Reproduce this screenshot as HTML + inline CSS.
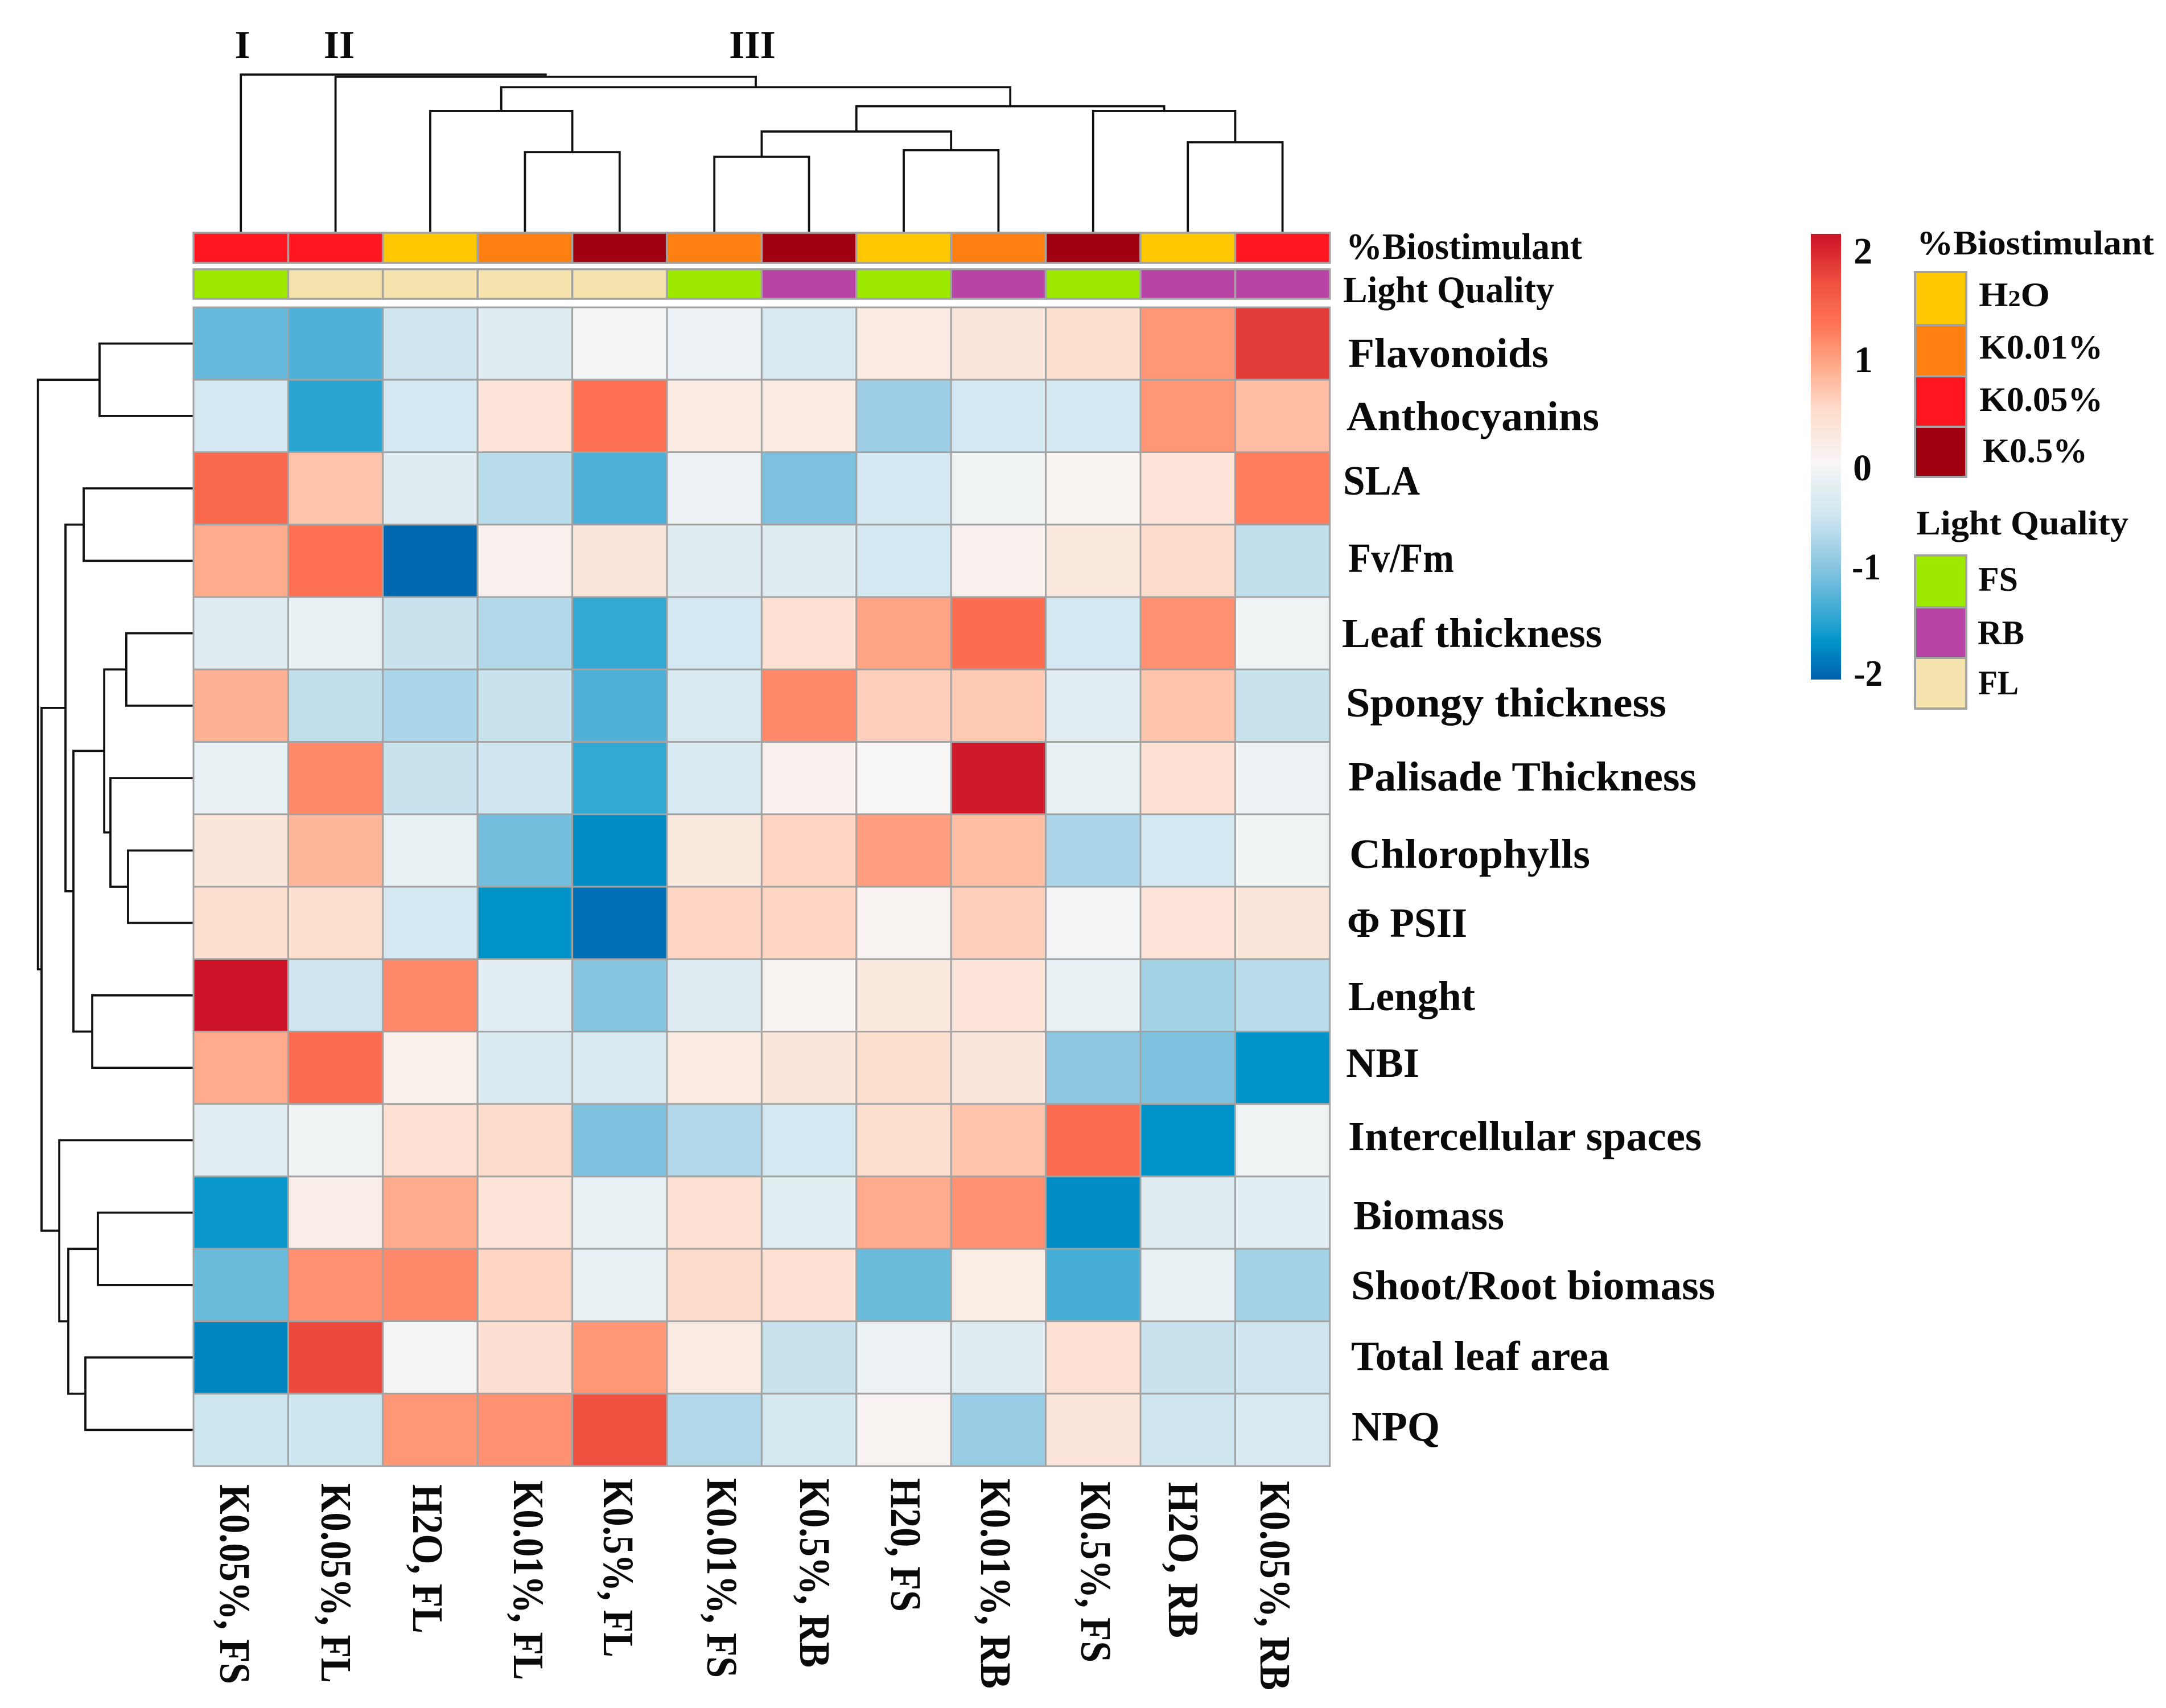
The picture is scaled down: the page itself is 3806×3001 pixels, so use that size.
<!DOCTYPE html>
<html lang="en">
<head>
<meta charset="utf-8">
<title>Clustered heatmap of biostimulant and light quality treatments</title>
<style>
html,body{margin:0;padding:0;background:#fff;}
svg{display:block;}
text{font-family:"Liberation Serif",serif;font-weight:bold;fill:#0a0a0a;}
.rl{font-size:73px;}
.cl{font-size:76px;}
.ll{font-size:60px;}
.cb{font-size:66px;}
.an{font-size:66px;}
.rm{font-size:70px;text-anchor:middle;}
</style>
</head>
<body>
<svg id="chart" xmlns="http://www.w3.org/2000/svg" width="3806" height="3001" viewBox="0 0 3806 3001">
<rect x="0" y="0" width="3806" height="3001" fill="#ffffff"/>
<defs><linearGradient id="cbGrad" x1="0" y1="0" x2="0" y2="1"></linearGradient></defs>
<g id="colDendro" fill="none" stroke="#111" stroke-width="3.8"></g>
<g id="rowDendro" fill="none" stroke="#111" stroke-width="3.8"></g>
<g id="annots"></g>
<g id="cells"></g>

<text class="rm" x="426" y="102">I</text>
<text class="rm" x="596" y="102">II</text>
<text class="rm" x="1322" y="102">III</text>

<text class="an" x="2365" y="455" textLength="415" lengthAdjust="spacingAndGlyphs">%Biostimulant</text>
<text class="an" x="2360" y="531" textLength="371" lengthAdjust="spacingAndGlyphs">Light Quality</text>

<g>
<text class="rl" x="2369" y="645" textLength="352" lengthAdjust="spacingAndGlyphs">Flavonoids</text>
<text class="rl" x="2366" y="756" textLength="444" lengthAdjust="spacingAndGlyphs">Anthocyanins</text>
<text class="rl" x="2360" y="869" textLength="135" lengthAdjust="spacingAndGlyphs">SLA</text>
<text class="rl" x="2369" y="1005" textLength="186" lengthAdjust="spacingAndGlyphs">Fv/Fm</text>
<text class="rl" x="2358" y="1137" textLength="457" lengthAdjust="spacingAndGlyphs">Leaf thickness</text>
<text class="rl" x="2365" y="1259" textLength="563" lengthAdjust="spacingAndGlyphs">Spongy thickness</text>
<text class="rl" x="2369" y="1389" textLength="612" lengthAdjust="spacingAndGlyphs">Palisade Thickness</text>
<text class="rl" x="2371" y="1525" textLength="423" lengthAdjust="spacingAndGlyphs">Chlorophylls</text>
<text class="rl" x="2367" y="1646" textLength="211" lengthAdjust="spacingAndGlyphs">Φ PSII</text>
<text class="rl" x="2369" y="1775" textLength="223" lengthAdjust="spacingAndGlyphs">Lenght</text>
<text class="rl" x="2365" y="1892" textLength="129" lengthAdjust="spacingAndGlyphs">NBI</text>
<text class="rl" x="2369" y="2021" textLength="621" lengthAdjust="spacingAndGlyphs">Intercellular spaces</text>
<text class="rl" x="2378" y="2160" textLength="265" lengthAdjust="spacingAndGlyphs">Biomass</text>
<text class="rl" x="2374" y="2283" textLength="640" lengthAdjust="spacingAndGlyphs">Shoot/Root biomass</text>
<text class="rl" x="2374" y="2407" textLength="454" lengthAdjust="spacingAndGlyphs">Total leaf area</text>
<text class="rl" x="2375" y="2531" textLength="155" lengthAdjust="spacingAndGlyphs">NPQ</text>
</g>

<g>
<text class="cl" transform="translate(387,2608) rotate(90)" textLength="351" lengthAdjust="spacingAndGlyphs">K0.05%, FS</text>
<text class="cl" transform="translate(565,2606) rotate(90)" textLength="351" lengthAdjust="spacingAndGlyphs">K0.05%, FL</text>
<text class="cl" transform="translate(726,2608) rotate(90)" textLength="262" lengthAdjust="spacingAndGlyphs">H2O, FL</text>
<text class="cl" transform="translate(903,2601) rotate(90)" textLength="351" lengthAdjust="spacingAndGlyphs">K0.01%, FL</text>
<text class="cl" transform="translate(1061,2598) rotate(90)" textLength="314" lengthAdjust="spacingAndGlyphs">K0.5%, FL</text>
<text class="cl" transform="translate(1243,2597) rotate(90)" textLength="351" lengthAdjust="spacingAndGlyphs">K0.01%, FS</text>
<text class="cl" transform="translate(1406,2598) rotate(90)" textLength="332" lengthAdjust="spacingAndGlyphs">K0.5%, RB</text>
<text class="cl" transform="translate(1566,2597) rotate(90)" textLength="235" lengthAdjust="spacingAndGlyphs">H20, FS</text>
<text class="cl" transform="translate(1724,2598) rotate(90)" textLength="369" lengthAdjust="spacingAndGlyphs">K0.01%, RB</text>
<text class="cl" transform="translate(1900,2603) rotate(90)" textLength="318" lengthAdjust="spacingAndGlyphs">K0.5%, FS</text>
<text class="cl" transform="translate(2054,2604) rotate(90)" textLength="274" lengthAdjust="spacingAndGlyphs">H2O, RB</text>
<text class="cl" transform="translate(2215,2602) rotate(90)" textLength="368" lengthAdjust="spacingAndGlyphs">K0.05%, RB</text>
</g>

<rect id="cbRect" x="3182" y="411" width="53" height="783" fill="url(#cbGrad)"/>
<g>
<text class="cb" x="3257" y="463">2</text>
<text class="cb" x="3258" y="654">1</text>
<text class="cb" x="3256" y="844">0</text>
<text class="cb" x="3254" y="1018" textLength="51" lengthAdjust="spacingAndGlyphs">-1</text>
<text class="cb" x="3257" y="1205" textLength="51" lengthAdjust="spacingAndGlyphs">-2</text>
</g>

<g stroke="#a3a3a3" stroke-width="4">
<rect x="3365" y="478" width="90" height="93" fill="#ffc800"/>
<rect x="3365" y="571" width="90" height="90" fill="#ff7f10"/>
<rect x="3365" y="661" width="90" height="89" fill="#ff1620"/>
<rect x="3365" y="750" width="90" height="88" fill="#a00010"/>
</g>
<text class="ll" x="3368" y="447" textLength="417" lengthAdjust="spacingAndGlyphs">%Biostimulant</text>
<text class="ll" x="3477" y="538" textLength="125" lengthAdjust="spacingAndGlyphs">H<tspan font-size="40">2</tspan>O</text>
<text class="ll" x="3478" y="630" textLength="217" lengthAdjust="spacingAndGlyphs">K0.01%</text>
<text class="ll" x="3478" y="722" textLength="217" lengthAdjust="spacingAndGlyphs">K0.05%</text>
<text class="ll" x="3484" y="812" textLength="184" lengthAdjust="spacingAndGlyphs">K0.5%</text>

<g stroke="#a3a3a3" stroke-width="4">
<rect x="3365" y="976" width="90" height="91" fill="#9de900"/>
<rect x="3365" y="1067" width="90" height="89" fill="#b845a5"/>
<rect x="3365" y="1156" width="90" height="89" fill="#f4e3ac"/>
</g>
<text class="ll" x="3367" y="939" textLength="373" lengthAdjust="spacingAndGlyphs">Light Quality</text>
<text class="ll" x="3476" y="1038" textLength="70" lengthAdjust="spacingAndGlyphs">FS</text>
<text class="ll" x="3475" y="1132" textLength="82" lengthAdjust="spacingAndGlyphs">RB</text>
<text class="ll" x="3476" y="1220" textLength="71" lengthAdjust="spacingAndGlyphs">FL</text>
</svg>

<script>
// ---- data ----
const traits = ["Flavonoids","Anthocyanins","SLA","Fv/Fm","Leaf thickness","Spongy thickness","Palisade Thickness","Chlorophylls","PSII","Lenght","NBI","Intercellular spaces","Biomass","Shoot/Root biomass","Total leaf area","NPQ"];
const treatments = ["K0.05%, FS","K0.05%, FL","H2O, FL","K0.01%, FL","K0.5%, FL","K0.01%, FS","K0.5%, RB","H20, FS","K0.01%, RB","K0.5%, FS","H2O, RB","K0.05%, RB"];
const biostimulantTrack = ["K0.05","K0.05","H2O","K0.01","K0.5","K0.01","K0.5","H2O","K0.01","K0.5","H2O","K0.05"];
const lightTrack = ["FS","FL","FL","FL","FL","FS","RB","FS","RB","FS","RB","RB"];
const biostimulantColors = {"H2O":"#ffc800","K0.01":"#ff7f10","K0.05":"#ff1620","K0.5":"#a00010"};
const lightColors = {"FS":"#9de900","RB":"#b845a5","FL":"#f4e3ac"};

const zFlavonoids    = [-1.17,-1.3,-0.5,-0.3,-0.05,-0.15,-0.4,0.2,0.3,0.45,1.05,1.85];
const zAnthocyanins  = [-0.45,-1.5,-0.45,0.35,1.35,0.2,0.2,-0.85,-0.45,-0.45,1.05,0.75];
const zSLA           = [1.45,0.7,-0.3,-0.65,-1.3,-0.15,-1.05,-0.45,-0.1,0.05,0.35,1.25];
const zFvFm          = [0.9,1.35,-2.0,0.1,0.3,-0.3,-0.3,-0.45,0.1,0.25,0.5,-0.6];
const zLeafThickness = [-0.3,-0.2,-0.55,-0.7,-1.45,-0.45,0.4,0.95,1.4,-0.45,1.1,-0.1];
const zSpongy        = [0.85,-0.6,-0.75,-0.55,-1.3,-0.35,1.15,0.6,0.65,-0.25,0.7,-0.55];
const zPalisade      = [-0.2,1.15,-0.55,-0.5,-1.45,-0.4,0.1,0.0,2.1,-0.2,0.4,-0.15];
const zChlorophylls  = [0.3,0.8,-0.2,-1.1,-1.75,0.25,0.55,1.0,0.75,-0.75,-0.45,-0.1];
const zPSII          = [0.45,0.45,-0.45,-1.7,-1.95,0.55,0.55,0.05,0.6,-0.05,0.35,0.3];
const zLenght        = [2.15,-0.5,1.15,-0.25,-1.0,-0.3,0.03,0.25,0.35,-0.2,-0.8,-0.65];
const zNBI           = [0.9,1.4,0.12,-0.35,-0.4,0.22,0.3,0.45,0.3,-0.95,-1.05,-1.7];
const zIntercellular = [-0.25,-0.1,0.4,0.5,-1.05,-0.7,-0.45,0.45,0.7,1.4,-1.7,-0.1];
const zBiomass       = [-1.65,0.15,0.9,0.35,-0.2,0.4,-0.25,0.9,1.1,-1.75,-0.3,-0.25];
const zShootRoot     = [-1.15,1.1,1.15,0.55,-0.2,0.5,0.4,-1.15,0.18,-1.35,-0.2,-0.8];
const zTotalLeaf     = [-1.8,1.75,-0.05,0.42,1.05,0.22,-0.55,-0.12,-0.3,0.4,-0.55,-0.5];
const zNPQ           = [-0.52,-0.52,1.05,1.1,1.7,-0.7,-0.42,0.05,-0.88,0.32,-0.5,-0.4];
const zMatrix = [zFlavonoids,zAnthocyanins,zSLA,zFvFm,zLeafThickness,zSpongy,zPalisade,zChlorophylls,zPSII,zLenght,zNBI,zIntercellular,zBiomass,zShootRoot,zTotalLeaf,zNPQ];

// cluster trees: [merge distance, left branch, right branch]; integers are leaf indices
const colTree = [100,0,[98.6,1,[92,[77,2,[51,3,4]],[80,[64,[48,5,6],[52.2,7,8]],[77,9,[57.2,10,11]]]]]];
const rowTree = [100,[60.4,0,1],[97.7,[82.3,[70.6,2,3],[77.2,[57.4,[43.2,4,5],[53.4,6,[42.1,7,8]]],[65.1,9,10]]],[86.3,11,[80.5,[61.5,12,13],[69.5,14,15]]]]];

const colorValues = [2.16,1.7,1.3,0.9,0.5,0,-0.5,-1,-1.5,-1.7,-2.05];
const colorStops  = ["#cb1126","#ef5040","#ff7555","#ffab8c","#fedccb","#f7f6f5","#cfe6f0","#87c4e0","#2aa5d2","#0093c8","#0061ad"];

// ---- axis functions ----
const NS = "http://www.w3.org/2000/svg";
function colX(j){ return 340 + j * 166.4; }
function rowY(i){ return 540 + i * 127.25; }
function colMid(j){ return colX(j + 0.5); }
function rowMid(i){ return rowY(i + 0.5); }
function colHeight(d){ return 409 - d * 2.78; }
function rowDepth(d){ return 340 - d * 2.733; }
function hexToRgb(h){ return [1,3,5].map(function(k){ return parseInt(h.substr(k,2),16); }); }
function colorFor(v){
  if (v >= colorValues[0]) return colorStops[0];
  for (let k = 1; k < colorValues.length; k++) {
    if (v >= colorValues[k]) {
      const t = (v - colorValues[k]) / (colorValues[k-1] - colorValues[k]);
      const a = hexToRgb(colorStops[k]), b = hexToRgb(colorStops[k-1]);
      return "rgb(" + a.map(function(c,n){ return Math.round(c + (b[n]-c)*t); }).join(",") + ")";
    }
  }
  return colorStops[colorStops.length-1];
}
function make(tag, attrs){
  const e = document.createElementNS(NS, tag);
  Object.keys(attrs).forEach(function(k){ e.setAttribute(k, attrs[k]); });
  return e;
}

// ---- heatmap cells ----
const cellGroup = document.getElementById("cells");
zMatrix.forEach(function(row, i){
  row.forEach(function(v, j){
    const el = make("rect", {x:colX(j), y:rowY(i), width:166.4, height:127.25, fill:colorFor(v), stroke:"#a3a3a3", "stroke-width":3});
    
    
    const t = make("title", {});
    t.textContent = traits[i] + " / " + treatments[j] + ": " + v;
    el.appendChild(t);
    cellGroup.appendChild(el);
  });
});

// ---- annotation tracks ----
const annotGroup = document.getElementById("annots");
biostimulantTrack.forEach(function(k, j){
  const el = make("rect", {x:colX(j), y:409, width:166.4, height:53, fill:biostimulantColors[k], stroke:"#a3a3a3", "stroke-width":3.5});
  
  
  annotGroup.appendChild(el);
});
lightTrack.forEach(function(k, j){
  const el = make("rect", {x:colX(j), y:473, width:166.4, height:52, fill:lightColors[k], stroke:"#a3a3a3", "stroke-width":3.5});
  
  
  annotGroup.appendChild(el);
});

// ---- dendrograms ----
function drawColNode(node, parent){
  if (typeof node === "number") return {x:colMid(node), y:409};
  const a = drawColNode(node[1], parent), b = drawColNode(node[2], parent);
  const y = colHeight(node[0]);
  const el = make("path", {d:"M"+a.x+" "+a.y+"V"+y+"H"+b.x+"V"+b.y});
  
  
  parent.appendChild(el);
  return {x:(a.x+b.x)/2, y:y};
}
function drawRowNode(node, parent){
  if (typeof node === "number") return {x:340, y:rowMid(node)};
  const a = drawRowNode(node[1], parent), b = drawRowNode(node[2], parent);
  const x = rowDepth(node[0]);
  const el = make("path", {d:"M"+a.x+" "+a.y+"H"+x+"V"+b.y+"H"+b.x});
  
  
  parent.appendChild(el);
  return {x:x, y:(a.y+b.y)/2};
}
drawColNode(colTree, document.getElementById("colDendro"));
drawRowNode(rowTree, document.getElementById("rowDendro"));

// ---- colorbar gradient ----
const grad = document.getElementById("cbGrad");
colorValues.forEach(function(v, k){
  const offset = (colorValues[0] - v) / (colorValues[0] - colorValues[colorValues.length-1]);
  grad.appendChild(make("stop", {offset:offset, "stop-color":colorStops[k]}));
});
</script>
</body>
</html>
